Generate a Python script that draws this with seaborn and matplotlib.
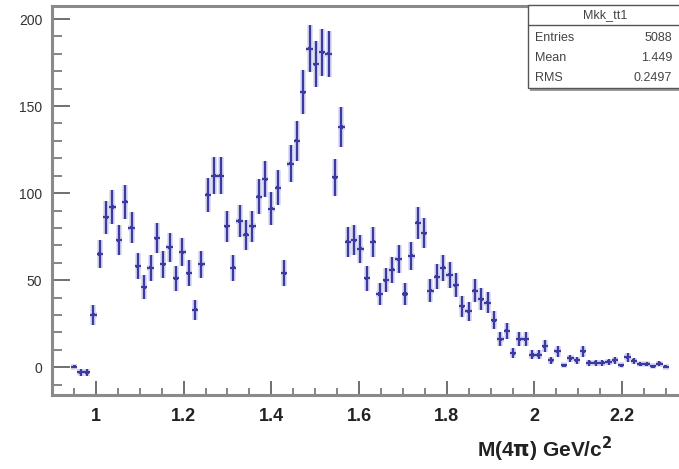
import numpy as np
import pandas as pd
import matplotlib
matplotlib.use("Agg")
import matplotlib.pyplot as plt
from matplotlib.patches import Rectangle
import seaborn as sns

# Histogram binning (ROOT TH1: 100 bins from 0.9 to 2.35)
bin_low = 0.9
bin_width = 0.0145
first_filled_bin = 3

counts = [0.3, -3, -3, 30, 65, 86, 92, 73, 95, 80,
          58, 46, 57, 74, 59, 69, 51, 66, 54, 33,
          59, 99, 110, 110, 81, 57, 84, 76, 81, 98,
          108, 91, 103, 54, 117, 130, 158, 183, 174, 181,
          180, 109, 138, 72, 73, 68, 51, 72, 42, 50,
          56, 62, 42, 64, 83, 77, 44, 52, 57, 53,
          47, 35, 32, 44, 39, 37, 27, 16, 21, 8,
          16, 16, 7, 7, 12, 4, 9, 1, 5, 4,
          9, 2.5, 2.5, 2.5, 3, 4, 1, 5.6, 3.6, 1.7,
          1.7, 0.6, 2, 0.2]

errors = [0.5, 2.0, 2.0, 5.5, 8.1, 9.3, 9.6, 8.5, 9.7, 8.9,
          7.6, 6.8, 7.5, 8.6, 7.7, 8.3, 7.1, 8.1, 7.3, 5.7,
          7.7, 9.9, 10.5, 10.5, 9.0, 7.5, 9.2, 8.7, 9.0, 9.9,
          10.4, 9.5, 10.1, 7.3, 10.8, 11.4, 12.6, 13.5, 13.2, 13.5,
          13.4, 10.4, 11.7, 8.5, 8.5, 8.2, 7.1, 8.5, 6.5, 7.1,
          7.5, 7.9, 6.5, 8.0, 9.1, 8.8, 6.6, 7.2, 7.5, 7.3,
          6.9, 5.9, 5.7, 6.6, 6.2, 6.1, 5.2, 4.0, 4.6, 2.8,
          4.0, 4.0, 2.6, 2.6, 3.5, 2.0, 3.0, 1.0, 2.2, 2.0,
          3.0, 1.6, 1.6, 1.6, 1.7, 2.0, 1.0, 2.4, 1.9, 1.3,
          1.3, 0.8, 1.4, 0.4]

x_ticks = [1.0, 1.2, 1.4, 1.6, 1.8, 2.0, 2.2]
x_tick_labels = ["1", "1.2", "1.4", "1.6", "1.8", "2", "2.2"]
y_ticks = [0, 50, 100, 150, 200]
y_tick_labels = ["0", "50", "100", "150", "200"]

stats_title = "Mkk_tt1"
stats_names = ["Entries", "Mean", "RMS"]
stats_values = ["5088", "1.449", "0.2497"]
x_label = r"M(4$\mathbf{\pi}$) GeV/c$^{\mathbf{2}}$"

bin_index = np.arange(first_filled_bin, first_filled_bin + len(counts))
centers = bin_low + bin_width * (bin_index + 0.5)
df = pd.DataFrame({"mass": centers, "count": counts, "err": errors})

sns.set_theme(style="white")
plt.rcParams["font.family"] = ["Liberation Sans", "DejaVu Sans"]

W, H = 679, 469
fig = plt.figure(figsize=(W / 100, H / 100), dpi=100)
ax = fig.add_axes([52 / W, (H - 395) / H, (688 - 52) / W, (395 - 6) / H])

# soft halo + dark core to mimic the blurred ROOT error-bar rendering
ax.errorbar(df["mass"], df["count"], yerr=df["err"], xerr=bin_width / 2,
            fmt="none", ecolor="#d6d6f0", elinewidth=4.0, capsize=0, zorder=2)
ax.errorbar(df["mass"], df["count"], yerr=df["err"], xerr=bin_width / 2,
            fmt="none", ecolor="#3a3aa2", elinewidth=1.6, capsize=0, zorder=3)
sns.scatterplot(data=df, x="mass", y="count", ax=ax, marker="s", s=5,
                color="#3a3aa2", edgecolor="none", zorder=4, legend=False)

ax.set_xlim(0.9, 2.35)
ax.set_ylim(-16, 207.5)
ax.set_xlabel("")
ax.set_ylabel("")

ax.set_xticks(x_ticks)
ax.set_xticklabels(x_tick_labels, fontsize=13, fontweight="bold", color="#222222")
ax.set_xticks(np.arange(0.95, 2.35, 0.05), minor=True)
ax.set_yticks(y_ticks)
ax.set_yticklabels(y_tick_labels, fontsize=10, color="#333333")
ax.set_yticks(np.arange(-10, 207, 10), minor=True)

ax.tick_params(axis="x", which="major", direction="in", length=10, width=1.4,
               color="#707070", pad=9, bottom=True)
ax.tick_params(axis="x", which="minor", direction="in", length=5, width=1.2,
               color="#707070", bottom=True)
ax.tick_params(axis="y", which="major", direction="in", length=13, width=1.4,
               color="#707070", pad=7, left=True)
ax.tick_params(axis="y", which="minor", direction="in", length=7, width=1.2,
               color="#707070", left=True)

for side, sp in ax.spines.items():
    sp.set_visible(True)
    sp.set_color("#8a8a8a")
    sp.set_linewidth(2.2)

# Stats box
bx0, by0, by1 = 528 / W, 1 - 88 / H, 1 - 5 / H
fig.patches.append(Rectangle((bx0 + 2 / W, by0 - 3 / H), 1.0, by1 - by0,
                             transform=fig.transFigure, facecolor="#9a9a9a",
                             edgecolor="none", zorder=5))
fig.patches.append(Rectangle((bx0, by0), 1.0, by1 - by0, transform=fig.transFigure,
                             facecolor="white", edgecolor="#555555", linewidth=1.0,
                             zorder=6))
fig.lines.append(plt.Line2D([bx0, 1.0], [1 - 25 / H, 1 - 25 / H],
                            transform=fig.transFigure, color="#555555",
                            linewidth=1.0, zorder=7))
fig.text(605 / W, 1 - 15 / H, stats_title, ha="center", va="center",
         fontsize=9, color="#444444", zorder=8)
row_y = [38, 58, 78]
for name, val, yy in zip(stats_names, stats_values, row_y):
    fig.text(535 / W, 1 - yy / H, name, ha="left", va="center", fontsize=9,
             color="#444444", zorder=8)
    fig.text(672 / W, 1 - yy / H, val, ha="right", va="center", fontsize=9,
             color="#444444", zorder=8)

fig.text(612 / W, 1 - 449 / H, x_label, ha="right", va="center", fontsize=15,
         fontweight="bold", color="#222222")

fig.savefig("out.png", dpi=100, facecolor="white")
